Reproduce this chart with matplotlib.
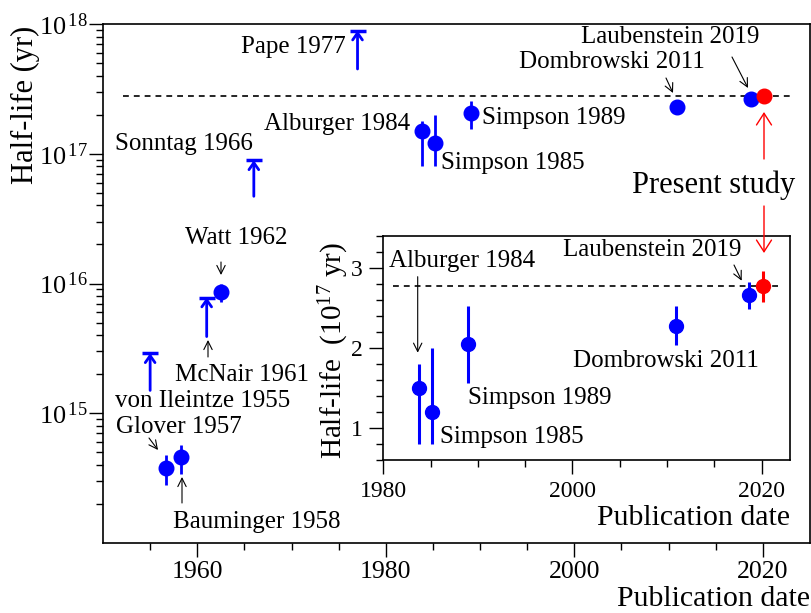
import matplotlib
matplotlib.use('Agg')
import matplotlib.pyplot as plt
import numpy as np
from matplotlib.ticker import FixedLocator, LogLocator, MultipleLocator, FuncFormatter, NullFormatter

plt.rcParams['font.family'] = ['Liberation Serif', 'DejaVu Serif']
plt.rcParams['mathtext.fontset'] = 'custom'
plt.rcParams['mathtext.rm'] = 'Liberation Serif'
plt.rcParams['mathtext.it'] = 'Liberation Serif:italic'
plt.rcParams['mathtext.bf'] = 'Liberation Serif:bold'

# ---- data: measurements with error bars (half-life in yr) ----
pt_labels = ['Glover 1957', 'Bauminger 1958', 'Watt 1962', 'Alburger 1984',
             'Simpson 1985', 'Simpson 1989', 'Dombrowski 2011', 'Laubenstein 2019']
pt_years = [1956.7, 1958.3, 1962.5, 1983.8, 1985.2, 1989.0, 2010.9, 2018.7]
pt_value = [3.8e14, 4.6e14, 8.6e15, 1.5e17, 1.2e17, 2.05e17, 2.28e17, 2.66e17]
pt_upper = [4.8e14, 5.7e14, 1.0e16, 1.8e17, 2.0e17, 2.53e17, 2.53e17, 2.83e17]
pt_lower = [2.8e14, 3.4e14, 7.2e15, 0.8e17, 0.8e17, 1.56e17, 2.04e17, 2.49e17]

# ---- data: lower limits (arrow from base up to limit) ----
lim_labels = ['von Ileintze 1955', 'McNair 1961', 'Sonntag 1966', 'Pape 1977']
lim_years = [1955.0, 1961.0, 1966.0, 1977.0]
lim_value = [2.9e15, 7.8e15, 8.9e16, 8.9e17]
lim_base = [1.5e15, 3.9e15, 4.7e16, 4.5e17]

# ---- data: present study ----
present_year = 2020.1
present_value = 2.77e17
present_upper = 2.96e17
present_lower = 2.58e17

main_xticks = [1960, 1980, 2000, 2020]
main_xminor = [1955, 1965, 1970, 1975, 1985, 1990, 1995, 2005, 2010, 2015]
inset_xticks = [1980, 2000, 2020]
inset_yticks = [1, 2, 3]
inset_unit = 1e17
inset_start = 1980

W, H = 812, 613
fig = plt.figure(figsize=(W / 100, H / 100), dpi=100)

BLUE = '#0000ff'
RED = '#ff0000'

def fp(px, py):
    return (px, H - py)

# ================= main axes =================
ax = fig.add_axes([103 / W, 1 - 543 / H, 707 / W, 519 / H])
ax.set_yscale('log')
ax.set_xlim(1950, 2025)
ax.set_ylim(1e14, 1e18)

yv = np.array(pt_value)
yerr = np.vstack([yv - np.array(pt_lower), np.array(pt_upper) - yv])
ax.errorbar(pt_years, pt_value, yerr=yerr, fmt='o', color=BLUE, ms=10.5,
            elinewidth=2, capsize=0, zorder=3)
ax.errorbar([present_year], [present_value],
            yerr=[[present_value - present_lower], [present_upper - present_value]],
            fmt='o', color=RED, ms=10.5, elinewidth=2, capsize=0, zorder=4)

for x, v, b in zip(lim_years, lim_value, lim_base):
    ax.annotate('', xy=(x, v), xytext=(x, b),
                arrowprops=dict(arrowstyle='->,head_length=0.5,head_width=0.35',
                                color=BLUE, lw=2, shrinkA=0, shrinkB=0,
                                mutation_scale=10))
    ax.plot([x], [v], marker='_', ms=12, mew=2.5, color=BLUE, zorder=3)

ax.hlines(present_value, 1952.1, 2022.9, colors='k', linestyles=(0, (3.5, 3)), lw=1.2)

ax.yaxis.set_major_locator(FixedLocator([1e15, 1e16, 1e17, 1e18]))
ax.yaxis.set_minor_locator(LogLocator(base=10, subs=np.arange(2, 10)))
ax.yaxis.set_minor_formatter(NullFormatter())
ax.yaxis.set_major_formatter(FuncFormatter(lambda v, p: r'$10^{\,%d}$' % int(round(np.log10(v)))))
ax.xaxis.set_major_locator(FixedLocator(main_xticks))
ax.xaxis.set_minor_locator(FixedLocator(main_xminor))
ax.tick_params(which='both', direction='out', top=False, right=False, width=1)
ax.tick_params(which='major', length=10, labelsize=18.5)
ax.tick_params(which='minor', length=5)
ax.tick_params(axis='y', which='major', pad=1, labelsize=19)
ax.tick_params(axis='x', which='major', pad=3)
for s in ax.spines.values():
    s.set_linewidth(1.2)

# labels
fig.text(25 / W, 1 - 105 / H, 'Half-life (yr)', rotation=90, ha='center', va='center', fontsize=22)
fig.text(810 / W, 1 - 606 / H, 'Publication date', ha='right', va='baseline', fontsize=21.5)

main_texts = [
    ('Pape 1977', 241, 53.3), ('Sonntag 1966', 115, 150), ('Alburger 1984', 264, 130),
    ('Watt 1962', 185, 244.3), ('McNair 1961', 175, 380.7), ('von Ileintze 1955', 115, 407.3),
    ('Glover 1957', 116, 433.3), ('Bauminger 1958', 173, 528.3), ('Simpson 1985', 441, 169.3),
    ('Simpson 1989', 482, 124), ('Dombrowski 2011', 519, 67.7), ('Laubenstein 2019', 581, 43.3),
]
for t, px, py in main_texts:
    fig.text(px / W, 1 - py / H, t, ha='left', va='baseline', fontsize=18)
fig.text(632 / W, 1 - 192.7 / H, 'Present study', ha='left', va='baseline', fontsize=22)

thin = dict(arrowstyle='->,head_length=0.6,head_width=0.3', color='k', lw=0.8,
            shrinkA=0, shrinkB=0, mutation_scale=10)
main_arrows = [((149, 438), (158, 450)), ((182, 503), (182, 477)), ((208, 357), (208, 340)),
               ((221, 262), (221, 275)), ((666, 78), (673, 93)), ((732, 57), (748, 88))]
for (a, b) in main_arrows:
    ax.annotate('', xy=fp(*b), xytext=fp(*a), xycoords='figure pixels',
                textcoords='figure pixels', arrowprops=thin)

# ================= inset =================
ins = fig.add_axes([383.3 / W, 1 - 460 / H, 406.7 / W, 224 / H])
ins.set_facecolor('white')
ins.set_xlim(1980, 2023)
ins.set_ylim(0.6, 3.4)
sel = [i for i, y in enumerate(pt_years) if y >= inset_start]
iy = np.array([pt_value[i] for i in sel]) / inset_unit
iu = np.array([pt_upper[i] for i in sel]) / inset_unit
il = np.array([pt_lower[i] for i in sel]) / inset_unit
ins.errorbar([pt_years[i] for i in sel], iy, yerr=[iy - il, iu - iy], fmt='o', color=BLUE,
             ms=10, elinewidth=2.2, capsize=0, zorder=3)
pv = present_value / inset_unit
ins.errorbar([present_year], [pv],
             yerr=[[pv - present_lower / inset_unit], [present_upper / inset_unit - pv]],
             fmt='o', color=RED, ms=10, elinewidth=2.2, capsize=0, zorder=4)
ins.hlines(pv, 1981, 2021.9, colors='k', linestyles=(0, (3.5, 3)), lw=1.2)
ins.xaxis.set_major_locator(FixedLocator(inset_xticks))
ins.xaxis.set_minor_locator(MultipleLocator(5))
ins.yaxis.set_major_locator(FixedLocator(inset_yticks))
ins.yaxis.set_minor_locator(MultipleLocator(0.2))
ins.tick_params(which='both', direction='out', top=False, right=False, width=1)
ins.tick_params(which='major', length=10, labelsize=17, pad=5)
ins.tick_params(which='minor', length=5)
for s in ins.spines.values():
    s.set_linewidth(1.2)

fig.text(334 / W, 1 - 350 / H, r'Half-life  (10$^{17}$ yr)', rotation=90, ha='center',
         va='center', fontsize=21)
fig.text(790 / W, 1 - 525 / H, 'Publication date', ha='right', va='baseline', fontsize=21.5)

inset_texts = [('Alburger 1984', 389, 267.3), ('Laubenstein 2019', 563, 256),
               ('Dombrowski 2011', 573, 366.7), ('Simpson 1989', 468, 404.3),
               ('Simpson 1985', 440, 443.3)]
for t, px, py in inset_texts:
    fig.text(px / W, 1 - py / H, t, ha='left', va='baseline', fontsize=18, zorder=10)

inset_arrows = [((417.7, 276.7), (417.7, 352.7)), ((734, 265), (741.7, 280.7))]
for (a, b) in inset_arrows:
    ins.annotate('', xy=fp(*b), xytext=fp(*a), xycoords='figure pixels',
                 textcoords='figure pixels', arrowprops=thin, annotation_clip=False)

red = dict(arrowstyle='->,head_length=0.7,head_width=0.45', color=RED, lw=1,
           shrinkA=0, shrinkB=0, mutation_scale=12)
for (a, b) in [((764, 159), (764, 112)), ((764, 206), (764, 253))]:
    ins.annotate('', xy=fp(*b), xytext=fp(*a), xycoords='figure pixels',
                 textcoords='figure pixels', arrowprops=red, annotation_clip=False)

fig.savefig('out.png', dpi=100)
